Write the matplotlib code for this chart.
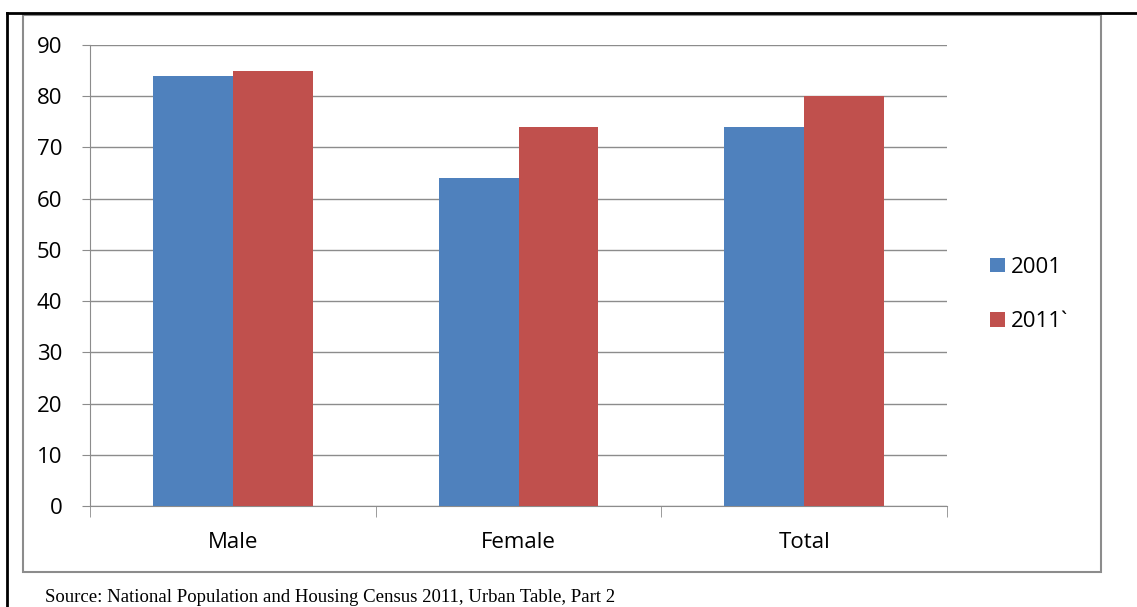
import matplotlib.pyplot as plt
import numpy as np
from matplotlib.patches import Rectangle
from matplotlib.lines import Line2D

categories = ['Male', 'Female', 'Total']
years = ['2001', '2011`']
values_2001 = [84, 64, 74]
values_2011 = [85, 74, 80]
colors = ['#4F81BD', '#C0504D']
y_ticks = [0, 10, 20, 30, 40, 50, 60, 70, 80, 90]
source = 'Source: National Population and Housing Census 2011, Urban Table, Part 2'

W, H = 1137, 607
fig = plt.figure(figsize=(W / 100, H / 100), dpi=100)
plt.rcParams['font.family'] = ['Open Sans', 'DejaVu Sans']

# page frame: black rule on top and left, grey chart border
fig.add_artist(Line2D([7 / W, 1], [1 - 13 / H, 1 - 13 / H], color='black', lw=2))
fig.add_artist(Line2D([7 / W, 7 / W], [0, 1 - 13 / H], color='black', lw=2))
fig.add_artist(Rectangle((23 / W, 1 - 572 / H), (1101 - 23) / W, (572 - 15) / H,
                         fill=False, edgecolor='#8c8c8c', lw=1.5))

ax = fig.add_axes([90 / W, 1 - 506 / H, (947 - 90) / W, (506 - 45) / H])
x = np.arange(len(categories))
w = 0.28
ax.bar(x - w / 2, values_2001, w, color=colors[0], label=years[0], zorder=3)
ax.bar(x + w / 2, values_2011, w, color=colors[1], label=years[1], zorder=3)

ax.set_xlim(-0.5, 2.5)
ax.set_ylim(0, 90)
ax.set_yticks(y_ticks)
ax.yaxis.grid(True, color='#8c8c8c', lw=1, zorder=0)
ax.set_xticks(x)
ax.set_xticklabels(categories)
ax.set_xticks([-0.5, 0.5, 1.5, 2.5], minor=True)
ax.tick_params(axis='x', which='major', length=0, pad=19, labelsize=16)
ax.tick_params(axis='x', which='minor', length=8, color='#8c8c8c')
ax.tick_params(axis='y', length=6, color='#8c8c8c', labelsize=16, pad=14)
for s in ['top', 'right']:
    ax.spines[s].set_visible(False)
for s in ['left', 'bottom']:
    ax.spines[s].set_color('#8c8c8c')

ax.legend(loc='center left', bbox_to_anchor=(1.027, 0.459), frameon=False,
          fontsize=16, handlelength=0.65, handleheight=0.65, handletextpad=0.3,
          labelspacing=1.5)

fig.text(45 / W, 1 - 597 / H, source, family='Liberation Serif', fontsize=13.5,
         va='center', ha='left')

fig.savefig('out.png', dpi=100)
